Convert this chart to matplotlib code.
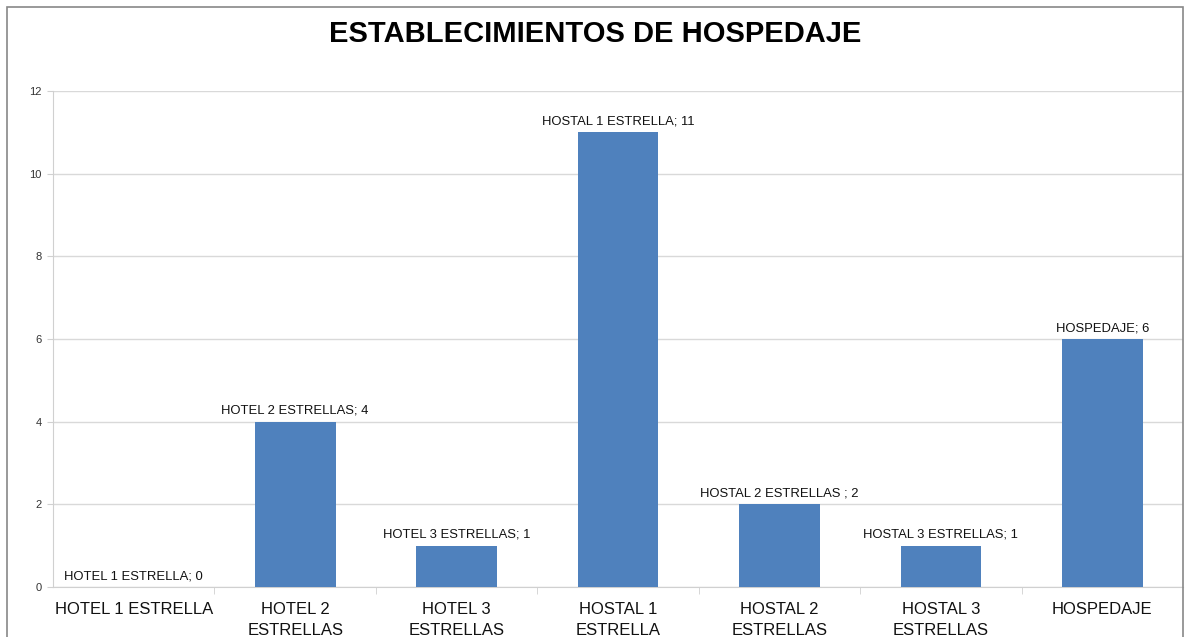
import matplotlib
matplotlib.use("Agg")
import matplotlib.pyplot as plt
from matplotlib.patches import Rectangle

categories = ["HOTEL 1 ESTRELLA", "HOTEL 2\nESTRELLAS", "HOTEL 3\nESTRELLAS",
              "HOSTAL 1\nESTRELLA", "HOSTAL 2\nESTRELLAS", "HOSTAL 3\nESTRELLAS",
              "HOSPEDAJE"]
values = [0, 4, 1, 11, 2, 1, 6]
data_labels = ["HOTEL 1 ESTRELLA; 0", "HOTEL 2 ESTRELLAS; 4", "HOTEL 3 ESTRELLAS; 1",
               "HOSTAL 1 ESTRELLA; 11", "HOSTAL 2 ESTRELLAS ; 2", "HOSTAL 3 ESTRELLAS; 1",
               "HOSPEDAJE; 6"]
yticks = [0, 2, 4, 6, 8, 10, 12]

plt.rcParams['font.family'] = ['Liberation Sans', 'DejaVu Sans']

fig = plt.figure(figsize=(11.89, 6.37), dpi=100)
ax = fig.add_axes([53/1189, 50/637, (1183-53)/1189, (587-91)/637])

x = list(range(len(categories)))
ax.bar(x, values, width=0.5, color="#4F81BD", zorder=3)
ax.set_xlim(-0.5, len(categories) - 0.5)
ax.set_ylim(0, 12)
ax.set_yticks(yticks)
ax.set_yticklabels([str(v) for v in yticks], fontsize=8, color="#333333")
ax.set_xticks(x)
ax.set_xticklabels(categories, fontsize=12, color="#111111", linespacing=1.45)
ax.tick_params(axis='x', length=0, pad=11)
ax.tick_params(axis='y', length=4, color="#d0d0d0", pad=4)
# category boundary ticks
ax.set_xticks([i + 0.5 for i in range(len(categories) - 1)], minor=True)
ax.tick_params(axis='x', which='minor', length=5, color="#d0d0d0")
ax.grid(axis='y', color="#d9d9d9", linewidth=1, zorder=0)
for s in ["top", "right"]:
    ax.spines[s].set_visible(False)
ax.spines["left"].set_color("#d0d0d0")
ax.spines["bottom"].set_color("#d0d0d0")

for xi, v, lab in zip(x, values, data_labels):
    ax.annotate(lab, (xi, v), xytext=(0, 3.5), textcoords="offset points",
                ha="center", va="bottom", fontsize=9.4, color="#111111")

fig.text(595/1189, 1 - 34/637, "ESTABLECIMIENTOS DE HOSPEDAJE", ha="center", va="center",
         fontsize=21, fontweight="bold", color="black")

fig.patches.append(Rectangle((7/1189, -0.1), (1183-7)/1189, 1.1 - 7/637,
                             transform=fig.transFigure, fill=False,
                             edgecolor="#888888", linewidth=1.2))

fig.savefig("out.png", dpi=100)
